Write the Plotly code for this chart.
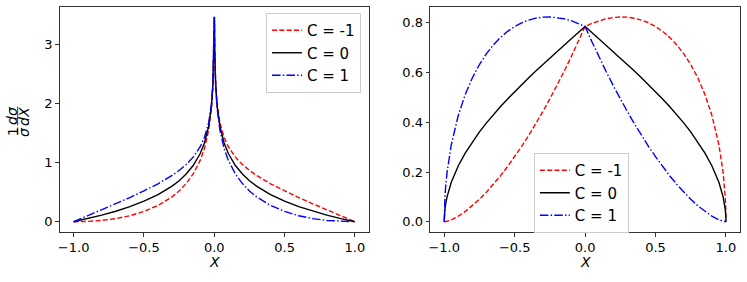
import plotly.graph_objects as go

# ---------------- data ----------------
X_LEFT = [-1.0, -0.95, -0.9, -0.8, -0.7, -0.6, -0.5, -0.4, -0.3, -0.25, -0.2, -0.15,
          -0.1, -0.07, -0.04, -0.02, -0.01, -0.003, -0.001,
          0.001, 0.003, 0.01, 0.02, 0.04, 0.07, 0.1, 0.15, 0.2, 0.25, 0.3, 0.4,
          0.5, 0.6, 0.7, 0.8, 0.9, 0.95, 1.0]
LEFT_CM1 = [0, 0.001, 0.005, 0.022, 0.053, 0.102, 0.174, 0.275, 0.421, 0.520, 0.644, 0.807,
            1.036, 1.237, 1.545, 1.917, 2.280, 2.896, 3.451,
            3.457, 2.914, 2.326, 1.995, 1.673, 1.423, 1.266, 1.091, 0.966, 0.866, 0.783, 0.641,
            0.521, 0.408, 0.303, 0.202, 0.101, 0.051, 0]
LEFT_C0 = [0, 0.026, 0.053, 0.112, 0.178, 0.255, 0.347, 0.458, 0.602, 0.693, 0.805, 0.949,
           1.151, 1.330, 1.609, 1.956, 2.303, 2.905, 3.454,
           3.454, 2.905, 2.303, 1.956, 1.609, 1.330, 1.151, 0.949, 0.805, 0.693, 0.602, 0.458,
           0.347, 0.255, 0.178, 0.112, 0.053, 0.026, 0]
LEFT_C1 = [0, 0.051, 0.101, 0.202, 0.303, 0.408, 0.521, 0.641, 0.783, 0.866, 0.966, 1.091,
           1.266, 1.423, 1.673, 1.995, 2.326, 2.914, 3.457,
           3.451, 2.896, 2.280, 1.917, 1.545, 1.237, 1.036, 0.807, 0.644, 0.520, 0.421, 0.275,
           0.174, 0.102, 0.053, 0.022, 0.005, 0.001, 0]

X_RIGHT = [-1.0, -0.999, -0.995, -0.99, -0.98, -0.95, -0.9, -0.85, -0.8, -0.75, -0.7, -0.65,
           -0.6, -0.55, -0.5, -0.45, -0.4, -0.35, -0.3, -0.25, -0.2, -0.15, -0.1, -0.05,
           0.0,
           0.05, 0.1, 0.15, 0.2, 0.25, 0.3, 0.35, 0.4, 0.45, 0.5, 0.55, 0.6,
           0.65, 0.7, 0.75, 0.8, 0.85, 0.9, 0.95, 0.98, 0.99, 0.995, 0.999, 1.0]
RIGHT_CM1 = [0, 0.0000, 0.0003, 0.0007, 0.0020, 0.0079, 0.0226, 0.0416, 0.0644, 0.0904, 0.1193, 0.1511,
             0.1854, 0.2224, 0.2618, 0.3036, 0.3478, 0.3943, 0.4432, 0.4943, 0.5478, 0.6036, 0.6618, 0.7224,
             0.7854,
             0.7984, 0.8088, 0.8166, 0.8216, 0.8239, 0.8230, 0.8189, 0.8114, 0.8004, 0.7854, 0.7660, 0.7418,
             0.7121, 0.6761, 0.6325, 0.5792, 0.5132, 0.4285, 0.3097, 0.1984, 0.1407, 0.0998, 0.0448, 0]
RIGHT_C0 = [0, 0.0224, 0.0500, 0.0707, 0.1002, 0.1588, 0.2255, 0.2774, 0.3218, 0.3614, 0.3977, 0.4316,
            0.4636, 0.4942, 0.5236, 0.5520, 0.5796, 0.6066, 0.6331, 0.6591, 0.6847, 0.7101, 0.7353, 0.7604,
            0.7854,
            0.7604, 0.7353, 0.7101, 0.6847, 0.6591, 0.6331, 0.6066, 0.5796, 0.5520, 0.5236, 0.4942, 0.4636,
            0.4316, 0.3977, 0.3614, 0.3218, 0.2774, 0.2255, 0.1588, 0.1002, 0.0707, 0.0500, 0.0224, 0]
RIGHT_C1 = [0, 0.0448, 0.0998, 0.1407, 0.1984, 0.3097, 0.4285, 0.5132, 0.5792, 0.6325, 0.6761, 0.7121,
            0.7418, 0.7660, 0.7854, 0.8004, 0.8114, 0.8189, 0.8230, 0.8239, 0.8216, 0.8166, 0.8088, 0.7984,
            0.7854,
            0.7224, 0.6618, 0.6036, 0.5478, 0.4943, 0.4432, 0.3943, 0.3478, 0.3036, 0.2618, 0.2224, 0.1854,
            0.1511, 0.1193, 0.0904, 0.0644, 0.0416, 0.0226, 0.0079, 0.0020, 0.0007, 0.0003, 0.0000, 0]

SERIES_NAMES = ["C = -1", "C = 0", "C = 1"]
X_TICKS = [-1.0, -0.5, 0.0, 0.5, 1.0]
X_TICK_TEXT = ["\u22121.0", "\u22120.5", "0.0", "0.5", "1.0"]
Y_TICKS_LEFT = [0, 1, 2, 3]
Y_TICK_TEXT_LEFT = ["0", "1", "2", "3"]
Y_TICKS_RIGHT = [0.0, 0.2, 0.4, 0.6, 0.8]
Y_TICK_TEXT_RIGHT = ["0.0", "0.2", "0.4", "0.6", "0.8"]

# ---------------- styling ----------------
W, H = 747, 282
FONT = "DejaVu Sans"
FS_TICK = 13
FS_LEG = 15
FS_LAB = 14
STYLES = [
    dict(color="#ff0000", dash="5px,2.3px"),
    dict(color="#000000", dash="solid"),
    dict(color="#0000ff", dash="8.5px,2.2px,1.5px,2.2px"),
]
LW = 1.4


def px_x(p):
    return p / W


def px_y(p):
    return 1 - p / H


fig = go.Figure()

for i, (ys, name) in enumerate(zip([LEFT_CM1, LEFT_C0, LEFT_C1], SERIES_NAMES)):
    fig.add_trace(go.Scatter(
        x=X_LEFT, y=ys, mode="lines", name=name,
        line=dict(color=STYLES[i]["color"], dash=STYLES[i]["dash"], width=LW),
        xaxis="x", yaxis="y", legend="legend", legendgroup="L%d" % i,
    ))
for i, (ys, name) in enumerate(zip([RIGHT_CM1, RIGHT_C0, RIGHT_C1], SERIES_NAMES)):
    fig.add_trace(go.Scatter(
        x=X_RIGHT, y=ys, mode="lines", name=name,
        line=dict(color=STYLES[i]["color"], dash=STYLES[i]["dash"], width=LW),
        xaxis="x2", yaxis="y2", legend="legend2", legendgroup="R%d" % i,
    ))

axis_common = dict(
    showgrid=False, zeroline=False, showline=True, mirror=True,
    linecolor="#333333", linewidth=1, ticks="outside", ticklen=3.5, tickwidth=1,
    tickcolor="#333333", tickfont=dict(family=FONT, size=FS_TICK, color="#000000"),
)
YDOM = [px_y(232), px_y(6.7)]

fig.update_layout(
    width=W, height=H,
    margin=dict(l=0, r=0, t=0, b=0),
    paper_bgcolor="white", plot_bgcolor="white",
    font=dict(family=FONT, size=FS_TICK, color="#000000"),
    showlegend=True,
    xaxis=dict(domain=[px_x(57.7), px_x(368)], range=[-1.1, 1.1], anchor="y",
               tickvals=X_TICKS, ticktext=X_TICK_TEXT, **axis_common),
    yaxis=dict(domain=YDOM, range=[-0.173, 3.63], anchor="x",
               tickvals=Y_TICKS_LEFT, ticktext=Y_TICK_TEXT_LEFT, **axis_common),
    xaxis2=dict(domain=[px_x(429.3), px_x(740)], range=[-1.1, 1.1], anchor="y2",
                tickvals=X_TICKS, ticktext=X_TICK_TEXT, **axis_common),
    yaxis2=dict(domain=YDOM, range=[-0.0412, 0.8651], anchor="x2",
                tickvals=Y_TICKS_RIGHT, ticktext=Y_TICK_TEXT_RIGHT, **axis_common),
    legend=dict(x=px_x(360), xanchor="right", y=px_y(13), yanchor="top",
                bgcolor="rgba(255,255,255,0.8)", bordercolor="#cccccc", borderwidth=1,
                font=dict(family=FONT, size=FS_LEG), traceorder="grouped", tracegroupgap=0),
    legend2=dict(x=px_x(533.3), xanchor="left", y=px_y(153), yanchor="top",
                 bgcolor="rgba(255,255,255,0.8)", bordercolor="#cccccc", borderwidth=1,
                 font=dict(family=FONT, size=FS_LEG), traceorder="grouped", tracegroupgap=0),
)

annotations = [
    dict(text="<i>X</i>", x=px_x(213), y=px_y(262)),
    dict(text="<i>X</i>", x=px_x(585), y=px_y(262)),
    # y-axis label: (1/sigma)(d sigma / dX) drawn as two stacked fractions, rotated
    dict(text="1", x=px_x(10.5), y=px_y(131.5), textangle=-90),
    dict(text="<i>σ</i>", x=px_x(21.5), y=px_y(131.5), textangle=-90),
    dict(text="<i>dσ</i>", x=px_x(10.5), y=px_y(115.5), textangle=-90),
    dict(text="<i>dX</i>", x=px_x(22), y=px_y(116), textangle=-90),
]
for a in annotations:
    a.update(xref="paper", yref="paper", showarrow=False, xanchor="center",
             yanchor="middle", font=dict(family=FONT, size=FS_LAB))
fig.update_layout(annotations=annotations)

fig.add_shape(type="line", xref="paper", yref="paper",
              x0=px_x(15.7), x1=px_x(15.7), y0=px_y(127.5), y1=px_y(135),
              line=dict(color="black", width=0.8))
fig.add_shape(type="line", xref="paper", yref="paper",
              x0=px_x(15.7), x1=px_x(15.7), y0=px_y(106.5), y1=px_y(125.5),
              line=dict(color="black", width=0.8))

fig.write_html("out.html", config={"displayModeBar": False},
               post_script="document.body.style.margin='0px';document.body.style.overflow='hidden';")
